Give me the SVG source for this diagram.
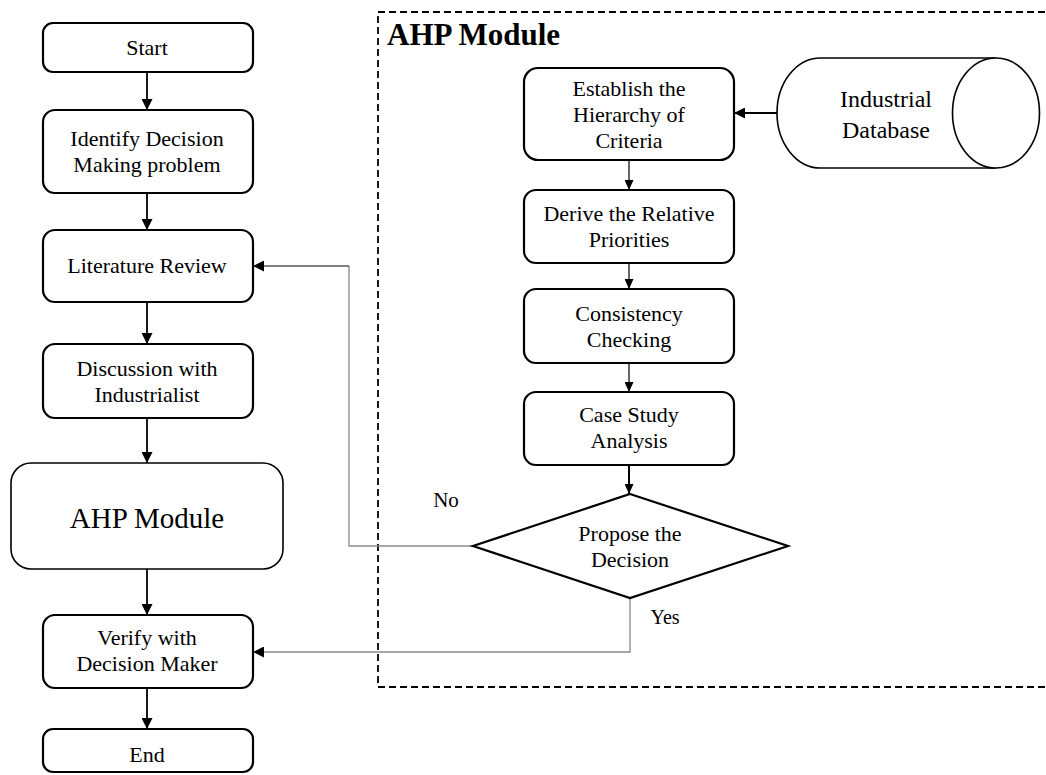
<svg xmlns="http://www.w3.org/2000/svg" width="1046" height="775" viewBox="0 0 1046 775">
<style>
text{font-family:"Liberation Serif","Times New Roman",serif;fill:#000;text-anchor:middle}
.t{font-size:22px}
.box{fill:#fff;stroke:#000;stroke-width:2.2}
.c{stroke:#000;fill:none}
.g{stroke:#8a8a8a;fill:none;stroke-width:1.3}
</style>
<defs>
<marker id="ah" markerUnits="userSpaceOnUse" markerWidth="11" markerHeight="11" refX="11" refY="5.5" orient="auto"><path d="M0,0 L11,5.5 L0,11 z" fill="#000"/></marker>
<marker id="as" markerUnits="userSpaceOnUse" markerWidth="10" markerHeight="9" refX="10" refY="4.5" orient="auto"><path d="M0,0 L10,4.5 L0,9 z" fill="#000"/></marker>
</defs>
<g id="ahp-frame">
<rect x="378" y="12" width="700" height="675" fill="none" stroke="#000" stroke-width="1.8" stroke-dasharray="7,4"/>
<text x="387" y="45" style="font-size:31px;font-weight:bold;text-anchor:start">AHP Module</text>
</g>
<g id="connectors">
<line class="c" x1="147" y1="72" x2="147" y2="110" stroke-width="1.8" marker-end="url(#ah)"/>
<line class="c" x1="147" y1="193" x2="147" y2="230" stroke-width="1.8" marker-end="url(#ah)"/>
<line class="c" x1="147" y1="302" x2="147" y2="344" stroke-width="1.8" marker-end="url(#ah)"/>
<line class="c" x1="147" y1="418" x2="147" y2="463" stroke-width="1.8" marker-end="url(#ah)"/>
<line class="c" x1="147" y1="569" x2="147" y2="615" stroke-width="1.8" marker-end="url(#ah)"/>
<line class="c" x1="147" y1="688" x2="147" y2="729" stroke-width="1.8" marker-end="url(#ah)"/>
<line class="c" x1="629" y1="160" x2="629" y2="190" stroke-width="1.2" marker-end="url(#as)"/>
<line class="c" x1="629" y1="263" x2="629" y2="289" stroke-width="1.2" marker-end="url(#as)"/>
<line class="c" x1="629" y1="363" x2="629" y2="392" stroke-width="1.2" marker-end="url(#as)"/>
<line class="c" x1="629" y1="465" x2="629" y2="494" stroke-width="2" marker-end="url(#as)"/>
<line class="c" x1="777" y1="113" x2="734" y2="113" stroke-width="1.8" marker-end="url(#ah)"/>
<path class="g" d="M473,546 H349 V266"/>
<line class="c" x1="349" y1="266" x2="253" y2="266" stroke-width="1.1" marker-end="url(#ah)"/>
<path class="g" d="M630,598 V652 H253" marker-end="url(#ah)"/>
<text x="446" y="507" style="font-size:21px">No</text>
<text x="665" y="624" style="font-size:20px">Yes</text>
</g>
<g id="start"><rect class="box" x="43" y="23" width="210" height="49" rx="10"/><text class="t" x="147" y="55">Start</text></g>
<g id="identify"><rect class="box" x="43" y="110" width="210" height="83" rx="12"/><text class="t" x="147" y="146">Identify Decision</text><text class="t" x="147" y="172">Making problem</text></g>
<g id="literature"><rect class="box" x="43" y="230" width="210" height="72" rx="12"/><text class="t" x="147" y="273">Literature Review</text></g>
<g id="discussion"><rect class="box" x="43" y="344" width="210" height="74" rx="12"/><text class="t" x="147" y="376">Discussion with</text><text class="t" x="147" y="402">Industrialist</text></g>
<g id="ahp-module"><rect x="11" y="463" width="272" height="106" rx="20" fill="#fff" stroke="#000" stroke-width="1.6"/><text x="147" y="528" style="font-size:29px">AHP Module</text></g>
<g id="verify"><rect class="box" x="43" y="615" width="210" height="73" rx="12"/><text class="t" x="147" y="645">Verify with</text><text class="t" x="147" y="671">Decision Maker</text></g>
<g id="end"><rect class="box" x="43" y="729" width="210" height="43" rx="10"/><text class="t" x="147" y="762">End</text></g>
<g id="establish"><rect class="box" x="524" y="68" width="210" height="92" rx="14"/><text class="t" x="629" y="96">Establish the</text><text class="t" x="629" y="122">Hierarchy of</text><text class="t" x="629" y="148">Criteria</text></g>
<g id="database"><path d="M820.5,58 H996 M820.5,168 H996 M820.5,58 A43.5,55 0 0 0 820.5,168" fill="none" stroke="#000" stroke-width="1.6"/><ellipse cx="996" cy="113" rx="43.5" ry="55" fill="#fff" stroke="#000" stroke-width="1.6"/><text x="886" y="107" style="font-size:24px">Industrial</text><text x="886" y="138" style="font-size:24px">Database</text></g>
<g id="derive"><rect class="box" x="524" y="190" width="210" height="73" rx="12"/><text class="t" x="629" y="221">Derive the Relative</text><text class="t" x="629" y="247">Priorities</text></g>
<g id="consistency"><rect class="box" x="524" y="289" width="210" height="74" rx="12"/><text class="t" x="629" y="321">Consistency</text><text class="t" x="629" y="347">Checking</text></g>
<g id="casestudy"><rect class="box" x="524" y="392" width="210" height="73" rx="12"/><text class="t" x="629" y="422">Case Study</text><text class="t" x="629" y="448">Analysis</text></g>
<g id="decision"><polygon points="630,494 788,546 630,598 473,546" fill="#fff" stroke="#000" stroke-width="2.2"/><text class="t" x="630" y="541">Propose the</text><text class="t" x="630" y="567">Decision</text></g>
</svg>
